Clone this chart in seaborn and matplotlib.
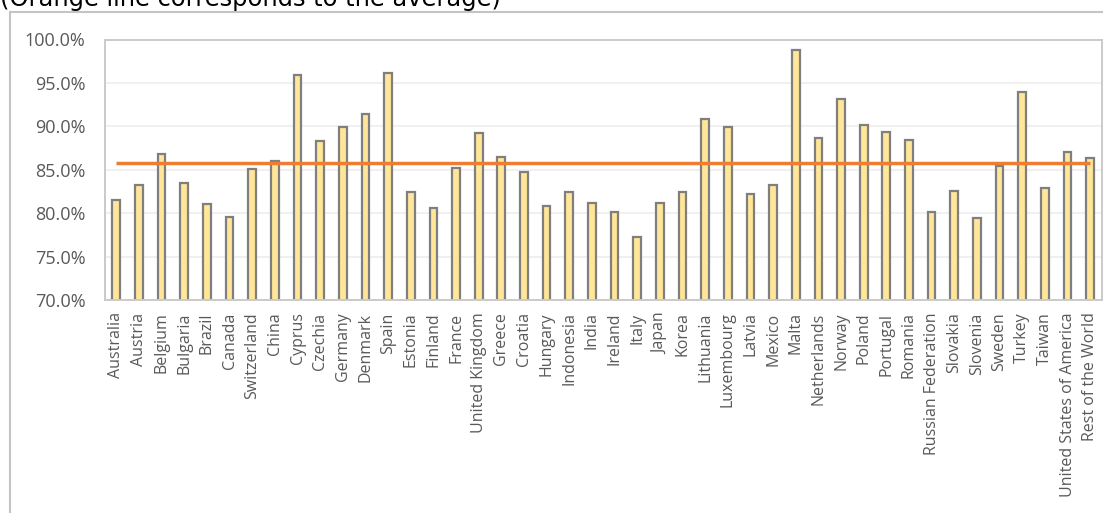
import numpy as np
import pandas as pd
import matplotlib
matplotlib.use("Agg")
import matplotlib.pyplot as plt
import matplotlib.patches as mpatches
from matplotlib.ticker import FuncFormatter
import seaborn as sns

countries = [
    "Australia", "Austria", "Belgium", "Bulgaria", "Brazil", "Canada",
    "Switzerland", "China", "Cyprus", "Czechia", "Germany", "Denmark",
    "Spain", "Estonia", "Finland", "France", "United Kingdom", "Greece",
    "Croatia", "Hungary", "Indonesia", "India", "Ireland", "Italy", "Japan",
    "Korea", "Lithuania", "Luxembourg", "Latvia", "Mexico", "Malta",
    "Netherlands", "Norway", "Poland", "Portugal", "Romania",
    "Russian Federation", "Slovakia", "Slovenia", "Sweden", "Turkey",
    "Taiwan", "United States of America", "Rest of the World",
]
share_pct = [
    81.5, 83.2, 86.8, 83.5, 81.0, 79.6,
    85.1, 86.0, 95.9, 88.3, 89.9, 91.4,
    96.1, 82.4, 80.6, 85.2, 89.2, 86.5,
    84.7, 80.8, 82.4, 81.2, 80.1, 77.3, 81.2,
    82.4, 90.9, 89.9, 82.2, 83.2, 98.8,
    88.6, 93.2, 90.1, 89.4, 88.4,
    80.1, 82.5, 79.5, 85.4, 94.0,
    82.9, 87.1, 86.4,
]
y_ticks = [70, 75, 80, 85, 90, 95, 100]
title_text = "(Orange line corresponds to the average)"

df = pd.DataFrame({"country": countries, "share": share_pct})
average = float(np.mean(share_pct))

sns.set_theme(style="white")
plt.rcParams["font.family"] = ["Open Sans", "DejaVu Sans"]

W, H = 1103, 513
fig = plt.figure(figsize=(W / 100, H / 100), dpi=100)
ax = fig.add_axes([105 / W, 1 - 300 / H, 996.5 / W, 260.5 / H])

sns.barplot(
    data=df, x="country", y="share", ax=ax,
    color="#FFE699", edgecolor="#7F7F7F", linewidth=1.6,
    width=0.34, saturation=1, zorder=2,
)

# average line spanning first to last category centre
pos = np.arange(len(countries))
ax.plot([pos[0], pos[-1]], [average, average], color="#ED7D31",
        linewidth=2.5, zorder=3, solid_capstyle="butt")

ax.set_ylim(70, 100)
ax.set_xlim(-0.5, len(countries) - 0.5)
ax.set_yticks(y_ticks)
ax.yaxis.set_major_formatter(FuncFormatter(lambda v, p: f"{v:.1f}%"))
ax.grid(axis="y", color="#EFEFEF", linewidth=1.3, zorder=0)
ax.grid(axis="x", visible=False)
ax.set_axisbelow(True)
ax.set_xlabel("")
ax.set_ylabel("")

for s in ax.spines.values():
    s.set_visible(True)
    s.set_color("#CACACA")
    s.set_linewidth(1.4)

ax.tick_params(axis="x", length=0, pad=9, labelsize=11.5,
               labelcolor="#595959", labelrotation=90)
ax.tick_params(axis="y", length=0, pad=14, labelsize=13,
               labelcolor="#595959")
for lbl in ax.get_xticklabels():
    lbl.set_verticalalignment("top")
    lbl.set_horizontalalignment("center")

# outer chart frame running off the right and bottom edges
frame = mpatches.Rectangle(
    (9.5 / W, -0.1), 1.2, 1.1 - 12.5 / H,
    transform=fig.transFigure, fill=False,
    edgecolor="#C4C4C4", linewidth=1.5,
)
fig.add_artist(frame)

fig.text(0.0, 1 - 6 / H, title_text, ha="left", va="baseline",
         fontsize=17.4, color="black", family="DejaVu Sans")

fig.savefig("out.png", dpi=100)
